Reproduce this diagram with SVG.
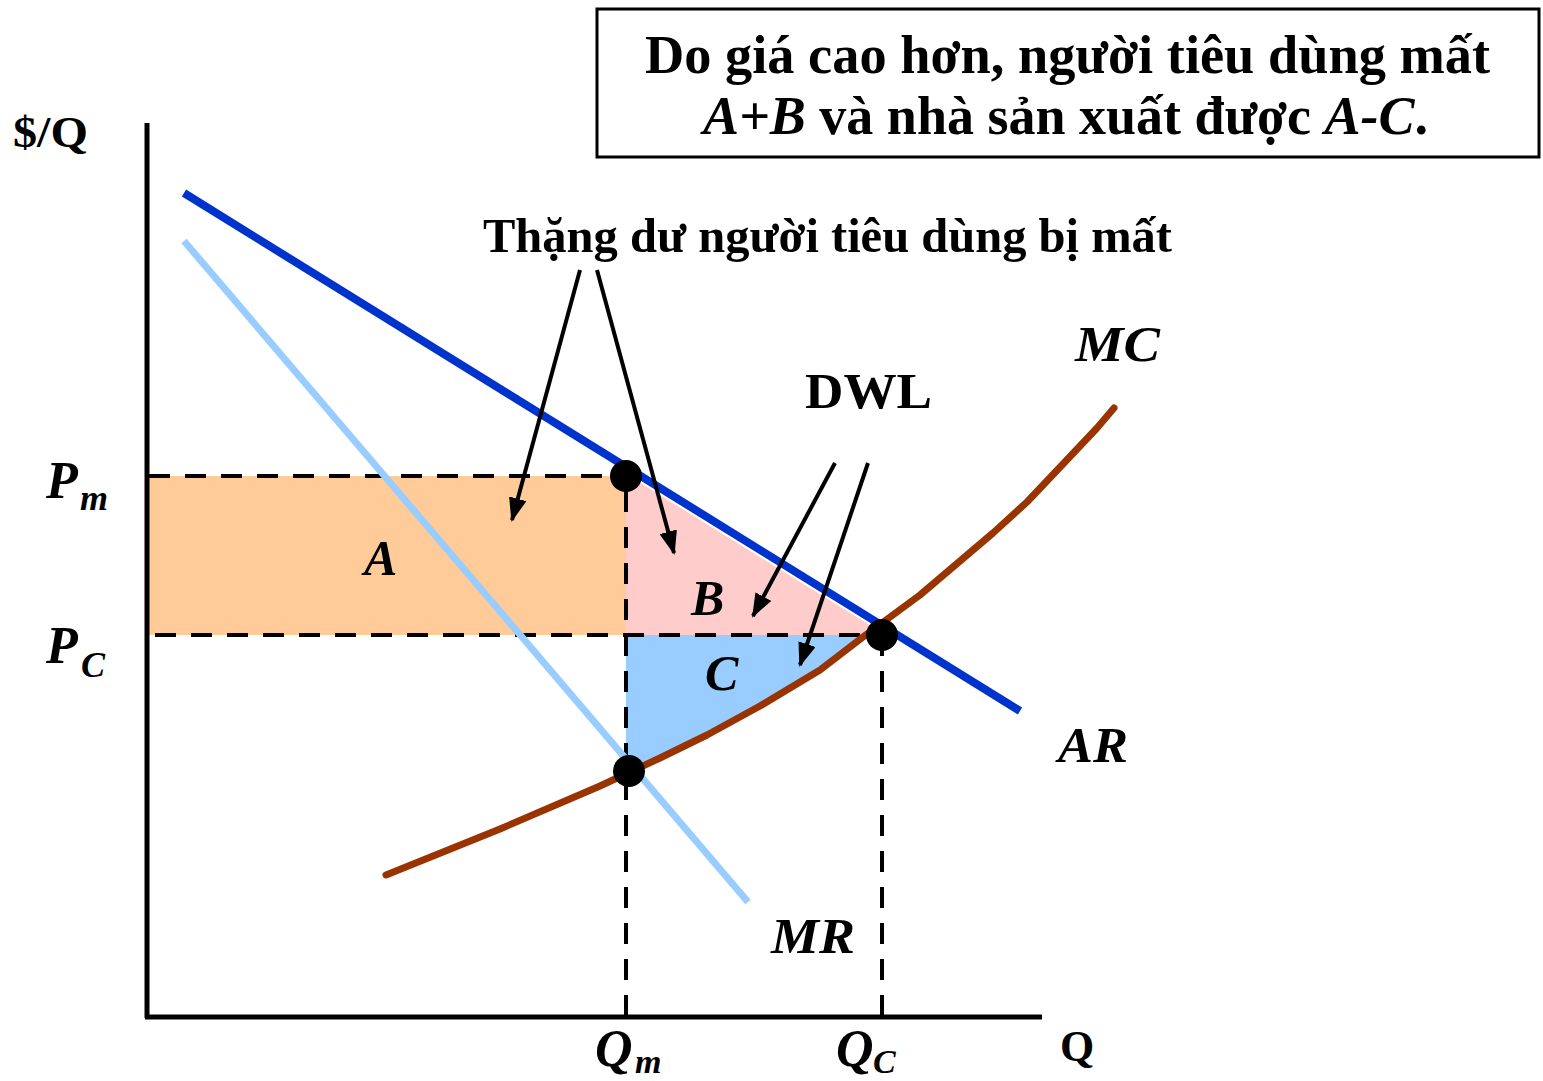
<svg xmlns="http://www.w3.org/2000/svg" width="1543" height="1081" viewBox="0 0 1543 1081">
<style>
  .t { font-family: "Liberation Serif", "Times New Roman", serif; font-weight: bold; fill: #000; }
  .i { font-style: italic; }
  .dash { stroke: #000; stroke-width: 4; stroke-dasharray: 21 15; fill: none; }
  .arr { stroke: #000; stroke-width: 4; fill: none; marker-end: url(#ah); }
</style>
<defs>
  <marker id="ah" markerUnits="userSpaceOnUse" markerWidth="24" markerHeight="18" refX="22" refY="9" orient="auto">
    <path d="M0,0 L24,9 L0,18 Z" fill="#000"/>
  </marker>
</defs>
<rect width="1543" height="1081" fill="#fff"/>

<g id="areas">
  <rect id="areaA" x="147" y="476" width="479" height="159" fill="#ffcc99"/>
  <polygon id="areaB" points="626,474 626,635 886,635" fill="#ffcccc"/>
  <polygon id="areaC" points="626,635 866,635 820,670 760,706 707,735 660,758 629,772 626,772" fill="#99ccff"/>
</g>

<g id="guides">
  <line class="dash" x1="149" y1="476" x2="626" y2="476"/>
  <line class="dash" x1="149" y1="635" x2="882" y2="635" style="stroke-dashoffset:-6"/>
  <line class="dash" x1="626" y1="1016" x2="626" y2="476"/>
  <line class="dash" x1="882" y1="1016" x2="882" y2="635"/>
</g>

<g id="axes" stroke="#000" stroke-width="5" fill="none">
  <line x1="147" y1="123" x2="147" y2="1018"/>
  <line x1="145" y1="1017" x2="1042" y2="1017"/>
</g>

<g id="curves" fill="none">
  <line id="MR" x1="184" y1="241" x2="748" y2="902" stroke="#99ccff" stroke-width="7"/>
  <line id="AR" x1="184" y1="193" x2="1020" y2="711" stroke="#0033cc" stroke-width="8"/>
  <polyline id="MC" points="386,875 500,829 600,786 660,758 707,735 760,706 820,670 863,637 920,595 993,533 1027,502 1063,464 1097,428 1114,408" stroke="#993300" stroke-width="7" stroke-linecap="round" stroke-linejoin="round"/>
</g>

<g id="points" fill="#000">
  <circle cx="626" cy="476" r="16"/>
  <circle cx="882" cy="635" r="16"/>
  <circle cx="629" cy="771" r="16"/>
</g>

<g id="connectors">
  <line class="arr" x1="580" y1="270" x2="512" y2="520"/>
  <line class="arr" x1="597" y1="270" x2="674" y2="553"/>
  <line class="arr" x1="835" y1="463" x2="753" y2="616"/>
  <line class="arr" x1="868" y1="463" x2="800" y2="665"/>
</g>

<g id="title">
  <rect x="597" y="9" width="942" height="148" fill="#fff" stroke="#000" stroke-width="3"/>
  <text class="t" x="645" y="73" font-size="55" textLength="845" lengthAdjust="spacingAndGlyphs">Do giá cao hơn, người tiêu dùng mất</text>
  <text class="t" x="703" y="134" font-size="55" textLength="725" lengthAdjust="spacingAndGlyphs"><tspan class="i">A+B</tspan> và nhà sản xuất được <tspan class="i">A-C</tspan>.</text>
</g>

<g id="labels">
  <text class="t" x="483" y="252" font-size="49" textLength="689" lengthAdjust="spacingAndGlyphs">Thặng dư người tiêu dùng bị mất</text>
  <text class="t" x="805" y="408" font-size="50" textLength="127" lengthAdjust="spacingAndGlyphs">DWL</text>
  <text class="t" x="13" y="147" font-size="44" textLength="75" lengthAdjust="spacingAndGlyphs">$/Q</text>
  <text class="t" x="1060" y="1061" font-size="44">Q</text>
  <text class="t i" x="1075" y="361" font-size="50" textLength="85" lengthAdjust="spacingAndGlyphs">MC</text>
  <text class="t i" x="1058" y="762" font-size="50" textLength="70" lengthAdjust="spacingAndGlyphs">AR</text>
  <text class="t i" x="771" y="953" font-size="50" textLength="84" lengthAdjust="spacingAndGlyphs">MR</text>
  <text class="t i" x="364" y="575" font-size="50">A</text>
  <text class="t i" x="691" y="615" font-size="50">B</text>
  <text class="t i" x="705" y="690" font-size="50">C</text>
  <text class="t i" x="46" y="498" font-size="52">P</text>
  <text class="t i" x="80" y="510" font-size="36">m</text>
  <text class="t i" x="46" y="663" font-size="52">P</text>
  <text class="t i" x="81" y="677" font-size="36">C</text>
  <text class="t i" x="595" y="1066" font-size="52">Q</text>
  <text class="t i" x="635" y="1073" font-size="34">m</text>
  <text class="t i" x="836" y="1066" font-size="52">Q</text>
  <text class="t i" x="873" y="1073" font-size="34">C</text>
</g>
</svg>
